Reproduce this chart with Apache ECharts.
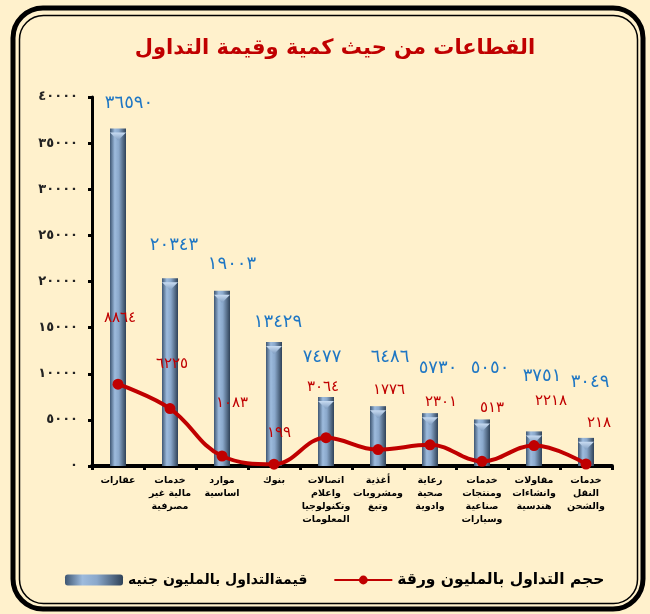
<!DOCTYPE html>
<html><head><meta charset="utf-8">
<script src="https://cdn.jsdelivr.net/npm/echarts@6/dist/echarts.min.js"></script>
<style>html,body{margin:0;padding:0;background:#FFF1CC;}#c{width:650px;height:614px;}</style>
</head><body><div id="c"></div>
<script>
const categories = ['عقارات','خدمات\nمالية غير\nمصرفية','موارد\nاساسية','بنوك','اتصالات\nواعلام\nوتكنولوجيا\nالمعلومات','أغذية\nومشروبات\nوتبغ','رعاية\nصحية\nوادوية','خدمات\nومنتجات\nصناعية\nوسيارات','مقاولات\nوانشاءات\nهندسية','خدمات\nالنقل\nوالشحن'];
const tradeValue = [36590, 20343, 19003, 13429, 7477, 6486, 5730, 5050, 3751, 3049];
const tradeVolume = [8864, 6225, 1083, 199, 3064, 1776, 2301, 513, 2218, 218];
const yTicks = {min: 0, max: 40000, interval: 5000};
const titleText = 'القطاعات من حيث كمية وقيمة التداول';
const seriesNames = ['قيمةالتداول بالمليون جنيه', 'حجم التداول بالمليون ورقة'];

// label layout (offset of each label's centre from its mark top, px) — layout only, not data
const barLabelOffsets = [[11,-25],[4,-33],[10,-26],[4,-20],[-4,-40],[12,-49],[8,-45],[8,-51],[8,-55],[4,-56]];
const lineLabelOffsets = [[2,-61],[2,-39],[10,-48],[5,-26],[-3,-46],[11,-55],[11,-38],[10,-48],[17,-39],[13,-36]];

const AR = '٠١٢٣٤٥٦٧٨٩';
const toAr = v => String(v).replace(/\d/g, d => AR[d]);
const F = 'DejaVu Sans';

const chart = echarts.init(document.getElementById('c'), null, {renderer: 'canvas'});
const barGrad = new echarts.graphic.LinearGradient(0, 0, 1, 0, [
  {offset: 0, color: '#3E5672'},
  {offset: 0.3, color: '#9DBBDD'},
  {offset: 0.55, color: '#8AA8CB'},
  {offset: 1, color: '#2F4258'}
]);
const capGrad = new echarts.graphic.LinearGradient(0, 0, 0, 1, [
  {offset: 0, color: '#C9DCF2'},
  {offset: 1, color: '#7E9CC0'}
]);
const barData = tradeValue.map((v, i) => ({value: v, label: {offset: [barLabelOffsets[i][0], barLabelOffsets[i][1] + 9]}}));
const lineData = tradeVolume.map((v, i) => ({value: v, label: {offset: [lineLabelOffsets[i][0], lineLabelOffsets[i][1] + 8]}}));

chart.setOption({
  backgroundColor: '#FFF1CC',
  textStyle: {fontFamily: F},
  title: {text: titleText, left: 330, top: 33, textAlign: 'center',
    textStyle: {color: '#C00000', fontSize: 21, fontWeight: 'bold', fontFamily: F}},
  graphic: [
    {type: 'rect', shape: {x: 13, y: 8, width: 630, height: 601, r: 30}, style: {fill: 'none', stroke: '#000', lineWidth: 5}, silent: true},
    {type: 'rect', shape: {x: 19.5, y: 15.5, width: 618, height: 588, r: 24}, style: {fill: 'none', stroke: '#000', lineWidth: 1.5}, silent: true}
  ],
  legend: {
    data: [{name: seriesNames[0], textStyle: {fontSize: 14}}, {name: seriesNames[1], textStyle: {fontSize: 15.5}}],
    left: 60, top: 567, itemGap: 26, itemWidth: 58, itemHeight: 11,
    textStyle: {fontWeight: 'bold', color: '#000', fontFamily: F}
  },
  grid: {left: 92, right: 38, top: 97, bottom: 148, containLabel: false},
  xAxis: {
    type: 'category', data: categories,
    axisLine: {lineStyle: {color: '#000', width: 4}},
    axisTick: {show: true, length: 4, lineStyle: {color: '#000', width: 3}},
    axisLabel: {interval: 0, fontSize: 9.5, fontWeight: 'bold', color: '#000', lineHeight: 13, margin: 8, fontFamily: F}
  },
  yAxis: {
    type: 'value', min: yTicks.min, max: yTicks.max, interval: yTicks.interval,
    splitLine: {show: false},
    axisLine: {show: true, lineStyle: {color: '#000', width: 3}},
    axisTick: {show: true, length: 4, lineStyle: {color: '#000', width: 3}},
    axisLabel: {formatter: v => toAr(v), fontSize: 13, fontWeight: 'bold', color: '#222', margin: 14, fontFamily: F}
  },
  series: [
    {
      name: seriesNames[0], type: 'bar', data: barData, barWidth: 16, z: 2,
      itemStyle: {color: barGrad},
      label: {show: true, position: 'top', distance: 0, formatter: p => toAr(p.value),
        color: '#1F77C4', fontSize: 18, fontFamily: F}
    },
    {
      name: 'cap', type: 'pictorialBar', data: tradeValue, barWidth: 16, z: 3,
      symbol: 'path://M0,0 L16,0 L8,8 Z', symbolSize: [16, 8], symbolPosition: 'end',
      symbolOffset: [0, 4], barGap: '-100%', itemStyle: {color: capGrad}, silent: true
    },
    {
      name: seriesNames[1], type: 'line', data: lineData, smooth: 0.4, z: 5,
      symbol: 'circle', symbolSize: 11,
      lineStyle: {color: '#C00000', width: 4},
      itemStyle: {color: '#C00000'},
      label: {show: true, position: 'top', distance: 0, formatter: p => toAr(p.value),
        color: '#C00000', fontSize: 15, fontFamily: F}
    }
  ]
});
</script></body></html>
